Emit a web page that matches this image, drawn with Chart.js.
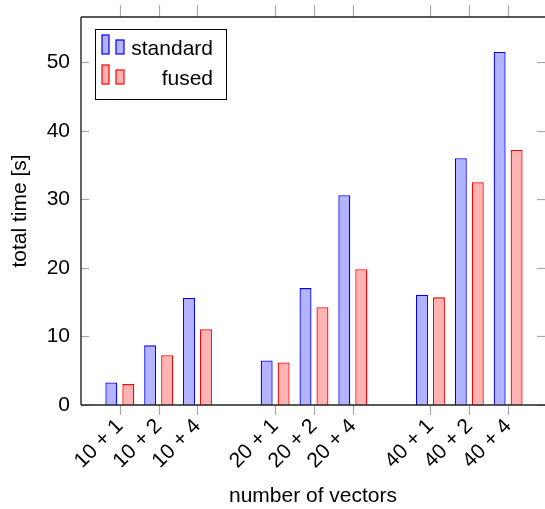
<!DOCTYPE html>
<html>
<head>
<meta charset="utf-8">
<script src="https://cdn.jsdelivr.net/npm/chart.js@4.4.0/dist/chart.umd.min.js"></script>
<style>
  html, body { margin: 0; padding: 0; background: #fff; }
</style>
</head>
<body>
<canvas id="timeChart" width="545" height="509"></canvas>
<script>
// values
const categories = ['10 + 1', '10 + 2', '10 + 4', '20 + 1', '20 + 2', '20 + 4', '40 + 1', '40 + 2', '40 + 4'];
const positions = [1, 2, 3, 5, 6, 7, 9, 10, 11];
const standardTimes = [3.3, 8.7, 15.6, 6.5, 17.05, 30.6, 16.1, 36.0, 51.5];
const fusedTimes = [3.05, 7.25, 11.05, 6.2, 14.25, 19.8, 15.7, 32.5, 37.2];
const yTicks = [0, 10, 20, 30, 40, 50];

Chart.defaults.font.family = "'Liberation Sans', sans-serif";
Chart.defaults.font.size = 21;
Chart.defaults.color = '#000';

function toPoints(values) {
  return values.map((v, i) => ({ x: positions[i], y: v }));
}

// axis lines + pgfplots style tick marks
const frame = {
  id: 'frame',
  afterDatasetsDraw(chart) {
    const { ctx, chartArea: a, scales: { x, y } } = chart;
    function line(x1, y1, x2, y2) {
      ctx.beginPath();
      ctx.moveTo(x1, y1);
      ctx.lineTo(x2, y2);
      ctx.stroke();
    }
    ctx.save();
    ctx.strokeStyle = '#a8a8a8';
    ctx.lineWidth = 1.2;
    positions.forEach(p => {
      const px = Math.round(x.getPixelForValue(p)) + 0.5;
      line(px, a.top - 12, px, a.top);
      line(px, a.bottom, px, a.bottom + 10);
    });
    yTicks.forEach(v => {
      const py = Math.round(y.getPixelForValue(v)) + 0.5;
      line(a.left, py, a.left + 8, py);
      line(a.right - 8, py, a.right, py);
    });
    ctx.strokeStyle = '#222';
    ctx.lineWidth = 1.4;
    line(a.left, a.top, a.right, a.top);
    line(a.left, a.bottom, a.right, a.bottom);
    line(a.left, a.top, a.left, a.bottom);
    ctx.restore();
  }
};

// legend box with two little bars per entry
const legendBox = {
  id: 'legendBox',
  afterDraw(chart) {
    const ctx = chart.ctx;
    ctx.save();
    ctx.fillStyle = '#fff';
    ctx.fillRect(95, 29, 131, 70);
    ctx.strokeStyle = '#000';
    ctx.lineWidth = 1;
    ctx.strokeRect(95.5, 29.5, 131, 70);
    chart.data.datasets.forEach((ds, i) => {
      const base = 54 + i * 30;
      ctx.fillStyle = ds.backgroundColor;
      ctx.strokeStyle = ds.borderColor;
      ctx.lineWidth = 1.2;
      ctx.fillRect(102, base - 19, 7, 19);
      ctx.strokeRect(102, base - 19, 7, 19);
      ctx.fillRect(116, base - 14, 8, 14);
      ctx.strokeRect(116, base - 14, 8, 14);
      ctx.fillStyle = '#000';
      ctx.font = "21px 'Liberation Sans', sans-serif";
      ctx.textAlign = 'right';
      ctx.textBaseline = 'alphabetic';
      ctx.fillText(ds.label, 213, base + 1);
    });
    ctx.restore();
  }
};

new Chart(document.getElementById('timeChart'), {
  type: 'bar',
  data: {
    datasets: [
      {
        label: 'standard',
        data: toPoints(standardTimes),
        backgroundColor: '#b3b3ff',
        borderColor: '#0000ff',
        borderWidth: 1.3
      },
      {
        label: 'fused',
        data: toPoints(fusedTimes),
        backgroundColor: '#ffb3b3',
        borderColor: '#ff0000',
        borderWidth: 1.3
      }
    ]
  },
  options: {
    responsive: false,
    animation: false,
    categoryPercentage: 0.874,
    barPercentage: 0.706,
    layout: { padding: { top: 17, right: 0, left: 0, bottom: 0 } },
    plugins: {
      legend: { display: false },
      tooltip: { enabled: false }
    },
    scales: {
      x: {
        type: 'linear',
        min: 0,
        max: 11.95,
        offset: false,
        grid: { display: false, drawTicks: false },
        border: { display: false },
        afterBuildTicks: scale => {
          scale.ticks = positions.map(p => ({ value: p }));
        },
        afterFit: scale => {
          scale.height = 104;
          scale.paddingLeft = 0;
          scale.paddingRight = 0;
        },
        ticks: {
          autoSkip: false,
          minRotation: 45,
          maxRotation: 45,
          padding: 9,
          callback: (value) => categories[positions.indexOf(value)]
        },
        title: {
          display: true,
          text: 'number of vectors',
          padding: { top: 0, bottom: 0 }
        }
      },
      y: {
        min: 0,
        max: 56.6,
        grid: { display: false, drawTicks: false },
        border: { display: false },
        afterBuildTicks: scale => {
          scale.ticks = yTicks.map(v => ({ value: v }));
        },
        afterFit: scale => {
          scale.width = 81;
          scale.paddingTop = 0;
          scale.paddingBottom = 0;
        },
        ticks: { padding: 11 },
        title: {
          display: true,
          text: 'total time [s]',
          padding: { top: 8, bottom: 0 }
        }
      }
    }
  },
  plugins: [frame, legendBox]
});
</script>
</body>
</html>
